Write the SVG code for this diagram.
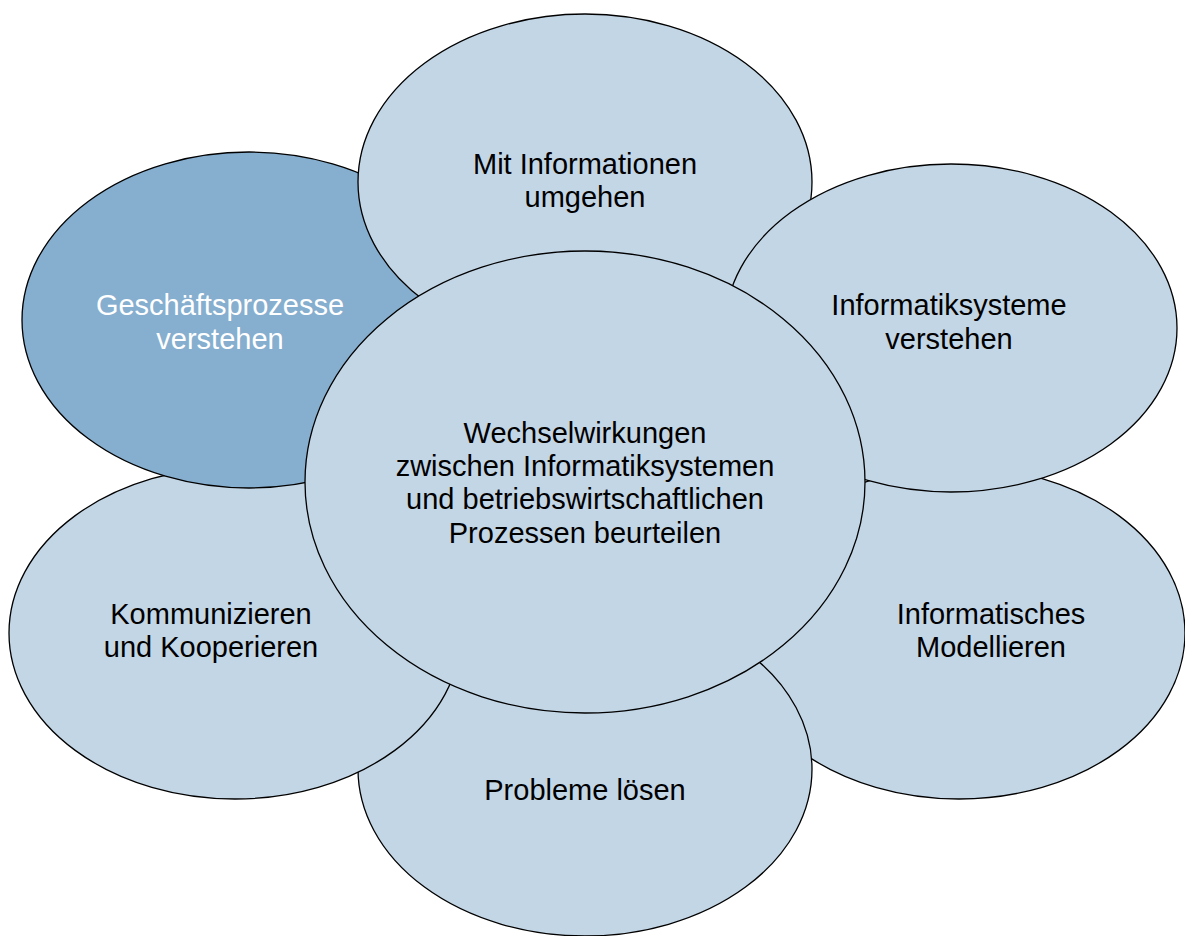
<svg xmlns="http://www.w3.org/2000/svg" width="1185" height="936" viewBox="0 0 1185 936">
<style>
.lt{fill:#C3D6E6;stroke:#000;stroke-width:1.3}
.dk{fill:#86AECF;stroke:#000;stroke-width:1.3}
.t{font-family:"Liberation Sans",Arial,sans-serif;font-size:29px;fill:#000;text-anchor:middle}
.w{fill:#fff}
</style>
<rect width="1185" height="936" fill="#fff"/>
<g id="n-modellieren"><ellipse class="lt" cx="959" cy="633" rx="226" ry="166"/><text class="t" x="991" y="624">Informatisches</text><text class="t" x="991" y="657">Modellieren</text></g>
<g id="n-probleme"><ellipse class="lt" cx="585" cy="769" rx="227" ry="167"/><text class="t" x="585" y="800">Probleme lösen</text></g>
<g id="n-kommunizieren"><ellipse class="lt" cx="235" cy="633" rx="226" ry="166"/><text class="t" x="211" y="624">Kommunizieren</text><text class="t" x="211" y="657">und Kooperieren</text></g>
<g id="n-geschaeft"><ellipse class="dk" cx="249" cy="320" rx="227" ry="168"/><text class="t w" x="220" y="315">Geschäftsprozesse</text><text class="t w" x="220" y="349">verstehen</text></g>
<g id="n-informationen"><ellipse class="lt" cx="585" cy="182" rx="227" ry="168"/><text class="t" x="585" y="174">Mit Informationen</text><text class="t" x="585" y="207">umgehen</text></g>
<g id="n-systeme"><ellipse class="lt" cx="951" cy="328" rx="226" ry="164"/><text class="t" x="949" y="315">Informatiksysteme</text><text class="t" x="949" y="349">verstehen</text></g>
<g id="n-zentrum"><ellipse class="lt" cx="585" cy="482" rx="280" ry="231"/><text class="t" x="585" y="443">Wechselwirkungen</text><text class="t" x="585" y="476">zwischen Informatiksystemen</text><text class="t" x="585" y="509">und betriebswirtschaftlichen</text><text class="t" x="585" y="543">Prozessen beurteilen</text></g>
<g id="connectors"></g>
</svg>
